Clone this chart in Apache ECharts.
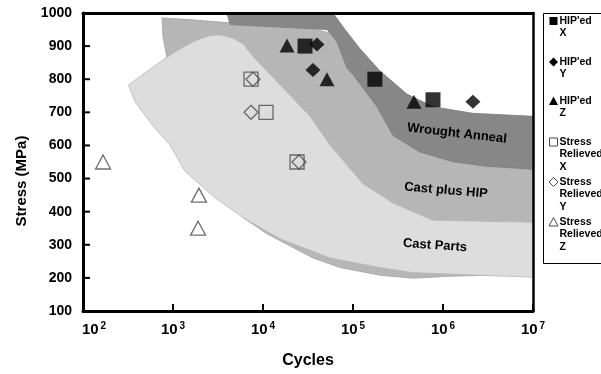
<!DOCTYPE html>
<html>
<head>
<meta charset="utf-8">
<script src="https://cdn.jsdelivr.net/npm/echarts@6/dist/echarts.min.js"></script>
<style>
html,body{margin:0;padding:0;background:#fff;}
#chart{width:601px;height:374px;}
</style>
</head>
<body>
<div id="chart"></div>
<script>
// ---- tick definitions ----
const xTickExponents = [2, 3, 4, 5, 6, 7];
const yTicks = [100, 200, 300, 400, 500, 600, 700, 800, 900, 1000];

// ---- region outlines [cycles, stress MPa] ----
const wroughtAnneal = [
  [3981, 1000], [59900, 1000], [81500, 950], [119600, 892], [199500, 825], [398000, 755],
  [774000, 717], [2150000, 697], [10000000, 688], [10000000, 528], [3080000, 537],
  [1290000, 551], [555000, 580], [278000, 630], [185000, 717], [100000, 814], [85700, 834],
  [66400, 913], [51400, 950], [4300, 965]
];
const castPlusHIP = [
  [755, 985], [1545, 980], [3981, 971], [25800, 962], [63100, 936], [119600, 834],
  [257600, 717], [718000, 630], [10000000, 601], [10000000, 362], [10000000, 211],
  [1200000, 205], [464000, 199], [199500, 208], [71800, 231], [35900, 260], [11070, 333],
  [6000, 382], [1995, 528], [1052, 747], [858, 863], [774, 927]
];
const castParts = [
  [320, 783], [700, 850], [1108, 886], [1755, 916], [2576, 932], [3326, 934], [4642, 924], [5995, 907],
  [7740, 869], [18490, 761], [33300, 688], [55500, 601], [129000, 484], [278000, 426],
  [774000, 374], [10000000, 368], [10000000, 202], [2580000, 208], [464000, 216],
  [199500, 231], [55500, 260], [15450, 318], [6000, 382], [2780, 447], [1360, 522],
  [927, 601], [600, 659], [378, 732]
];
const regionNames = ['Wrought Anneal', 'Cast plus HIP', 'Cast Parts'];
const regionLabelAt = [[1430000, 636], [1080000, 464], [815000, 298]];

// ---- measured points [cycles, stress MPa] ----
const hipX = [[29300, 900], [175000, 800], [774000, 738]];
const hipY = [[39800, 905], [35900, 828], [2150000, 732]];
const hipZ = [[18500, 902], [51400, 800], [476000, 732]];
const srX = [[7360, 800], [10800, 700], [23900, 550]];
const srY = [[7740, 800], [7360, 700], [25100, 550]];
const srZ = [[167, 550], [1940, 450], [1900, 350]];
const seriesNames = ["HIP'ed\nX", "HIP'ed\nY", "HIP'ed\nZ", "Stress\nRelieved\nX", "Stress\nRelieved\nY", "Stress\nRelieved\nZ"];

const FONT = '"Liberation Sans", Arial, sans-serif';

function polySeries(name, pts, fill, stroke, z) {
  return {
    type: 'custom', name: name, z: z, clip: true, silent: true,
    data: pts,
    renderItem: function (params, api) {
      if (params.dataIndex !== 0) return;
      const points = pts.map(p => api.coord(p));
      return { type: 'polygon', shape: { points: points }, style: { fill: fill, stroke: stroke, lineWidth: 0.8 } };
    }
  };
}

const chart = echarts.init(document.getElementById('chart'), null, { renderer: 'canvas' });

const openStyle = { color: 'rgba(0,0,0,0)', borderColor: '#4a4a4a', borderWidth: 1.3 };
const filledStyle = { color: '#000' };

const option = {
  animation: false,
  backgroundColor: '#fff',
  grid: { left: 83, right: 68, top: 13, bottom: 52, containLabel: false },
  xAxis: [{
    type: 'log', logBase: 10, min: 100, max: 10000000,
    name: 'Cycles', nameLocation: 'middle', nameGap: 42,
    nameTextStyle: { fontFamily: FONT, fontWeight: 'bold', fontSize: 16, color: '#000' },
    axisLine: { lineStyle: { color: '#000', width: 3 } },
    axisTick: { show: false },
    splitLine: { show: false }, minorTick: { show: false },
    axisLabel: {
      margin: 10, showMinLabel: true, showMaxLabel: true,
      formatter: function (v) {
        const e = Math.round(Math.log10(v));
        return (e === 2 ? '{pad|}' : '') + '{b|10}{s|' + e + '}';
      },
      rich: {
        pad: { width: 22 },
        b: { fontFamily: FONT, fontWeight: 'bold', fontSize: 15, color: '#000', lineHeight: 16, verticalAlign: 'bottom' },
        s: { fontFamily: FONT, fontWeight: 'bold', fontSize: 10, color: '#000', lineHeight: 16, verticalAlign: 'top', padding: [0, 0, 0, 2] }
      }
    }
  }, {
    type: 'log', logBase: 10, min: 100, max: 10000000, position: 'top',
    axisLine: { show: true, lineStyle: { color: '#000', width: 3 } },
    axisTick: { show: false }, axisLabel: { show: false }, splitLine: { show: false }
  }],
  yAxis: [{
    type: 'value', min: 100, max: 1000, interval: 100,
    axisLine: { show: true, lineStyle: { color: '#000', width: 3 } },
    axisTick: { show: false },
    splitLine: { show: false },
    axisLabel: { margin: 11, fontFamily: FONT, fontWeight: 'bold', fontSize: 14, color: '#000',
      formatter: function (v) { return String(v); } }
  }, {
    type: 'value', min: 100, max: 1000, interval: 100, position: 'right',
    axisLine: { show: true, lineStyle: { color: '#000', width: 2.5 } },
    axisTick: { show: false }, axisLabel: { show: false }, splitLine: { show: false }
  }],
  series: [
    polySeries('Cast plus HIP', castPlusHIP, '#b6b6b6', '#a4a4a4', -3),
    polySeries('Cast Parts', castParts, '#dddddd', '#b8b8b8', -2),
    polySeries('Wrought Anneal', wroughtAnneal, '#878787', '#7c7c7c', -1),
    {
      type: 'custom', name: 'labels', z: 4, silent: true,
      data: regionLabelAt.map((p, i) => [p[0], p[1], i]),
      renderItem: function (params, api) {
        const i = params.dataIndex;
        const c = api.coord([api.value(0), api.value(1)]);
        const rots = [-0.115, -0.085, -0.07];
        return {
          type: 'text', x: c[0], y: c[1], rotation: rots[i],
          style: { text: regionNames[i], font: 'bold 13px ' + FONT, fill: '#000', align: 'center', verticalAlign: 'middle' }
        };
      }
    },
    {
      // inward tick marks, positioned through the axes' own scales
      type: 'custom', name: 'ticks', z: 12, silent: true, clip: false,
      data: [[1000, 500]],
      renderItem: function (params, api) {
        const children = [];
        xTickExponents.forEach(e => {
          const c = api.coord([Math.pow(10, e), 100]);
          children.push({ type: 'line', shape: { x1: c[0], y1: c[1], x2: c[0], y2: c[1] - 7 }, style: { stroke: '#000', lineWidth: 2 } });
        });
        yTicks.forEach(v => {
          const c = api.coord([100, v]);
          children.push({ type: 'line', shape: { x1: c[0], y1: c[1], x2: c[0] + 7, y2: c[1] }, style: { stroke: '#000', lineWidth: 2 } });
        });
        return { type: 'group', children: children };
      }
    },
    { type: 'scatter', name: seriesNames[0], data: hipX, symbol: 'rect', symbolSize: 15, itemStyle: filledStyle, z: 5 },
    { type: 'scatter', name: seriesNames[1], data: hipY, symbol: 'diamond', symbolSize: [15, 14], itemStyle: filledStyle, z: 5 },
    { type: 'scatter', name: seriesNames[2], data: hipZ, symbol: 'triangle', symbolSize: [15, 14], itemStyle: filledStyle, z: 5 },
    { type: 'scatter', name: seriesNames[3], data: srX, symbol: 'rect', symbolSize: 14, itemStyle: openStyle, z: 5 },
    { type: 'scatter', name: seriesNames[4], data: srY, symbol: 'diamond', symbolSize: [14, 14], itemStyle: openStyle, z: 6 },
    { type: 'scatter', name: seriesNames[5], data: srZ, symbol: 'triangle', symbolSize: [15, 14], itemStyle: openStyle, z: 5 }
  ],
  graphic: []
};

// ---- legend drawn as graphic (icon aligned to first text line) ----
const legendRows = [21, 62, 101, 142, 182, 222];
const legendShapes = ['rect', 'diamond', 'triangle', 'rect', 'diamond', 'triangle'];
const g = [];
g.push({ type: 'rect', shape: { x: 543.5, y: 13.5, width: 80, height: 250 }, style: { fill: '#fff', stroke: '#000', lineWidth: 1 }, z: 20 });
legendRows.forEach((cy, i) => {
  const cx = 553.5, filled = i < 3;
  const st = filled ? { fill: '#000' } : { fill: 'none', stroke: '#4a4a4a', lineWidth: 1 };
  let el;
  if (legendShapes[i] === 'rect') {
    el = { type: 'rect', shape: { x: cx - 4, y: cy - 4, width: 8, height: 8 }, style: st };
  } else if (legendShapes[i] === 'diamond') {
    el = { type: 'polygon', shape: { points: [[cx, cy - 4.5], [cx + 4.5, cy], [cx, cy + 4.5], [cx - 4.5, cy]] }, style: st };
  } else {
    el = { type: 'polygon', shape: { points: [[cx, cy - 4.5], [cx + 4.5, cy + 4], [cx - 4.5, cy + 4]] }, style: st };
  }
  el.z = 21;
  g.push(el);
  g.push({
    type: 'text', x: 559.5, y: cy - 6.5, z: 21,
    style: { text: seriesNames[i], font: 'bold 10.5px ' + FONT, fill: '#000', lineHeight: 12.5, verticalAlign: 'top', align: 'left' }
  });
});
g.push({
  type: 'text', x: 22, y: 181, rotation: Math.PI / 2, z: 21,
  style: { text: 'Stress (MPa)', font: 'bold 15px ' + FONT, fill: '#000', align: 'center', verticalAlign: 'middle' }
});
option.graphic = g;

chart.setOption(option);
</script>
</body>
</html>
